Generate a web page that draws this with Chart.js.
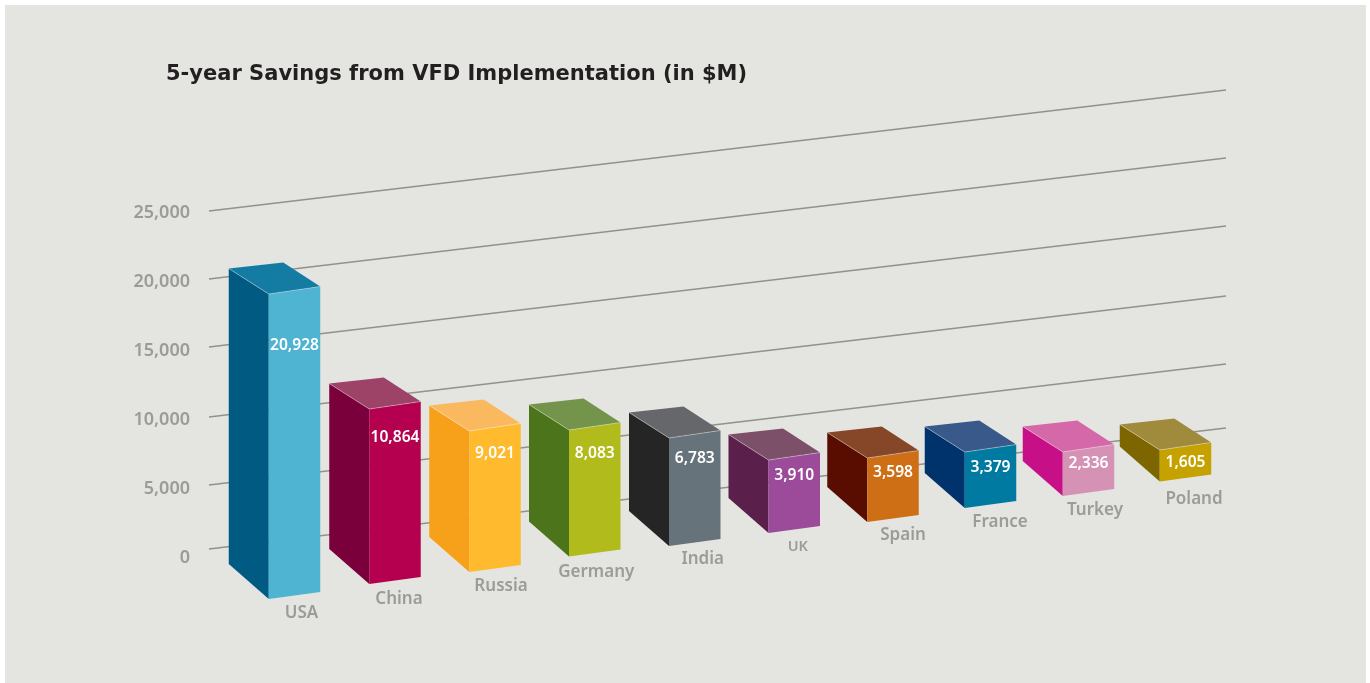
<!DOCTYPE html>
<html><head><meta charset="utf-8">
<style>
html,body{margin:0;padding:0;background:#fff;overflow:hidden}
#panel{position:absolute;left:5px;top:5px;width:1361px;height:678px;background:#e4e5e0}
canvas{position:absolute;left:0;top:0}
</style>
<script src="https://cdn.jsdelivr.net/npm/chart.js@4"></script>
</head><body>
<div id="panel"></div>
<canvas id="c" width="1370" height="683"></canvas>
<script>
const titleText = '5-year Savings from VFD Implementation (in $M)';
const categories = ['USA','China','Russia','Germany','India','UK','Spain','France','Turkey','Poland'];
const savings = [20928,10864,9021,8083,6783,3910,3598,3379,2336,1605];
const yTicks = [0,5000,10000,15000,20000,25000];

const frontColors = ['#4fb3d2','#b4004e','#ffba2e','#b1bb1b','#67737a','#9b4b9a','#ce6f16','#007aa0','#d692b5','#c5a200'];
const sideColors  = ['#005a82','#7a003c','#f7a11a','#4c741b','#262526','#5a1f4a','#590d00','#00336b','#c70f87','#7d6500'];
const topColors   = ['#147ba3','#9d4367','#fbb95f','#75944b','#66676b','#7d5069','#854727','#38598a','#d468a8','#a08a3c'];

// Projection of the hand-drawn 3D scene, per bar
const heightGain = [1.056,1.167,1.133,1.134,1.154,1.352,1.289,1.2,1.366,1.425];
const floorLift  = [-41,-26,-14,1.5,12,25,36,50,62,76.5];
const shiftX     = [0,1.5,2.5,3.25,4.25,4.75,4.5,3,2,0];
const valueDrop  = [51,28,22,22.7,19.7,15,14.3,14.7,11.3,11.7];
const nameShiftX = [7,4,6,1.5,8,3.5,10,9.5,6.5,8.5];
const nameShiftY = [17.5,18.5,17.5,19.5,17,17,17,17.5,18,21.5];
const nameSizes  = [17,17,17,17,17,14.5,17,17,17,17];
const gridLift   = [9,4,3,4,3,2];

const FONT = '"Noto Sans"';
const DEPTH = {x:-40, topY:-25.5, botY:-35, rightX:-37, rightY:-24};
const SKEW = {top:-7.5, bottom:-7};
const GRID = {left:209, right:1226, rise:121};

function poly(ctx, pts, fill){
  ctx.beginPath();
  pts.forEach((p,i)=> i ? ctx.lineTo(p[0],p[1]) : ctx.moveTo(p[0],p[1]));
  ctx.closePath();
  ctx.fillStyle = fill; ctx.fill();
}
function geometry(chart, i){
  const el = chart.getDatasetMeta(0).data[i];
  const w = el.width;
  const x0 = el.x - w/2 + shiftX[i];
  const bottom = el.base - floorLift[i];
  const top = bottom - (el.base - el.y) * heightGain[i];
  return {x0, x1:x0+w, top, bottom, w};
}
const scene3d = {
  id:'scene3d',
  afterLayout(chart){
    chart.titleBlock.left = 166;
  },
  beforeDatasetDraw(chart){
    const ctx = chart.ctx, yS = chart.scales.y;
    ctx.save();
    // receding gridlines
    ctx.strokeStyle = '#92928c'; ctx.lineWidth = 1.6;
    yTicks.forEach((v,k)=>{
      const y = yS.getPixelForValue(v) - gridLift[k];
      ctx.beginPath(); ctx.moveTo(GRID.left,y); ctx.lineTo(GRID.right,y-GRID.rise); ctx.stroke();
    });
    // boxes
    categories.forEach((_,i)=>{
      const g = geometry(chart,i);
      const fl=[g.x0,g.top], fr=[g.x1,g.top+SKEW.top];
      const bl=[g.x0,g.bottom], br=[g.x1,g.bottom+SKEW.bottom];
      const tbl=[g.x0+DEPTH.x,g.top+DEPTH.topY], tbr=[g.x1+DEPTH.rightX,g.top+SKEW.top+DEPTH.rightY];
      const bbl=[g.x0+DEPTH.x,g.bottom+DEPTH.botY];
      poly(ctx,[tbl,fl,bl,bbl],sideColors[i]);
      poly(ctx,[fl,fr,br,bl],frontColors[i]);
      poly(ctx,[tbl,tbr,fr,fl],topColors[i]);
      ctx.strokeStyle='rgba(255,255,255,0.35)'; ctx.lineWidth=1;
      ctx.beginPath(); ctx.moveTo(tbl[0],tbl[1]); ctx.lineTo(fl[0],fl[1]); ctx.lineTo(fr[0],fr[1]); ctx.stroke();
    });
    ctx.restore();
    return false;
  },
  afterDatasetsDraw(chart){
    const ctx = chart.ctx;
    ctx.save();
    ctx.textAlign='center'; ctx.textBaseline='middle';
    categories.forEach((name,i)=>{
      const g = geometry(chart,i), cx=(g.x0+g.x1)/2;
      ctx.fillStyle='#ffffff';
      ctx.font='600 15.6px '+FONT;
      ctx.fillText(savings[i].toLocaleString('en-US'),cx,g.top+valueDrop[i]+0.5);
      ctx.fillStyle='#9b9b97';
      ctx.font='600 '+nameSizes[i]+'px '+FONT;
      ctx.fillText(name,cx+nameShiftX[i],g.bottom+SKEW.bottom/2+nameShiftY[i]);
    });
    ctx.restore();
  }
};
new Chart(document.getElementById('c'),{
  type:'bar',
  plugins:[scene3d],
  data:{labels:categories,datasets:[{data:savings,backgroundColor:frontColors,barThickness:51.5}]},
  options:{
    responsive:false,animation:false,
    layout:{padding:{left:100,top:62.4,right:135,bottom:125}},
    plugins:{
      legend:{display:false},tooltip:{enabled:false},
      title:{display:true,text:titleText,align:'start',color:'#231f20',
        font:{family:'"DejaVu Sans"',size:21,weight:'700'},padding:{top:0,bottom:125.4}}
    },
    scales:{
      x:{display:false},
      y:{min:0,max:25000,afterFit(s){s.width=145;},
        afterBuildTicks(s){s.ticks=yTicks.map(v=>({value:v}));},
        grid:{display:false,drawTicks:false},border:{display:false},
        ticks:{padding:55,color:'#9b9b97',font:{family:FONT,size:18,weight:'600'},
          callback:v=>v.toLocaleString('en-US')}}
    }
  }
});
</script>
</body></html>
